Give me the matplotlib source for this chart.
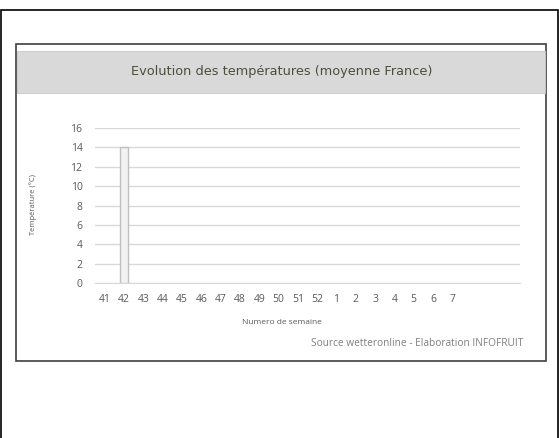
import matplotlib
matplotlib.use("Agg")
import matplotlib.pyplot as plt
from matplotlib.patches import Rectangle

# semaines (les 3 dernieres categories sont vides)
weeks = ["41", "42", "43", "44", "45", "46", "47", "48", "49", "50", "51", "52",
         "1", "2", "3", "4", "5", "6", "7", "", "", ""]
temps = [0, 14, 0, 0, 0, 0, 0, 0, 0, 0, 0, 0, 0, 0, 0, 0, 0, 0, 0, 0, 0, 0]
yticks = [0, 2, 4, 6, 8, 10, 12, 14, 16]

W, H = 559, 438
fig = plt.figure(figsize=(W / 100, H / 100), dpi=100)
txt = "#595959"
grid = "#d9d9d9"

def box(x0, y0, x1, y1, **kw):
    # pixel coords (top-left origin) -> figure fraction
    fig.patches.append(Rectangle((x0 / W, 1 - y1 / H), (x1 - x0) / W, (y1 - y0) / H,
                                 transform=fig.transFigure, zorder=-5, **kw))

# outer frame and chart box
box(1.5, 9.5, 557.5, 460, fill=False, ec="black", lw=1.2)
box(16, 43.5, 545.5, 361, fc="white", ec="#404040", lw=1.2)
box(17, 51, 545, 93, fc="#d9d9d9", ec="#c8c8c8", lw=0.6)

fig.text(282 / W, 1 - 72 / H, "Evolution des températures (moyenne France)",
         ha="center", va="center", fontsize=9.3, color="#4d4d40", family="DejaVu Sans")

ax = fig.add_axes([95 / W, 1 - 283 / H, (520 - 95) / W, (283 - 128) / H])
ax.set_zorder(5)
ax.patch.set_alpha(0)
x = range(len(weeks))
edges = ["#bfbfbf" if v else "none" for v in temps]
ax.bar(x, temps, width=0.42, color="#f2f2f2", edgecolor=edges, linewidth=1, zorder=3)
ax.set_xlim(-0.5, len(weeks) - 0.5)
ax.set_ylim(0, 16)
ax.set_yticks(yticks)
ax.set_xticks(list(x))
ax.set_xticklabels(weeks)
ax.yaxis.grid(True, color=grid, lw=1, zorder=0)
for s in ["top", "right", "left"]:
    ax.spines[s].set_visible(False)
ax.spines["bottom"].set_color(grid)
ax.tick_params(length=0, labelsize=7.5, labelcolor=txt, pad=8)
ax.tick_params(axis="y", pad=9)
for lab in ax.get_xticklabels() + ax.get_yticklabels():
    lab.set_family("Open Sans")

fig.text(33 / W, 1 - 205 / H, "Température (°C)", rotation=90, ha="center", va="center",
         fontsize=5.5, color=txt, family="Open Sans")
fig.text(282 / W, 1 - 322 / H, "Numero de semaine", ha="center", va="center",
         fontsize=6, color=txt, family="Open Sans")
fig.text(523 / W, 1 - 343 / H, "Source wetteronline - Elaboration INFOFRUIT", ha="right",
         va="center", fontsize=7.3, color="#7f7f7f", family="Open Sans")

fig.savefig("out.png", dpi=100)
